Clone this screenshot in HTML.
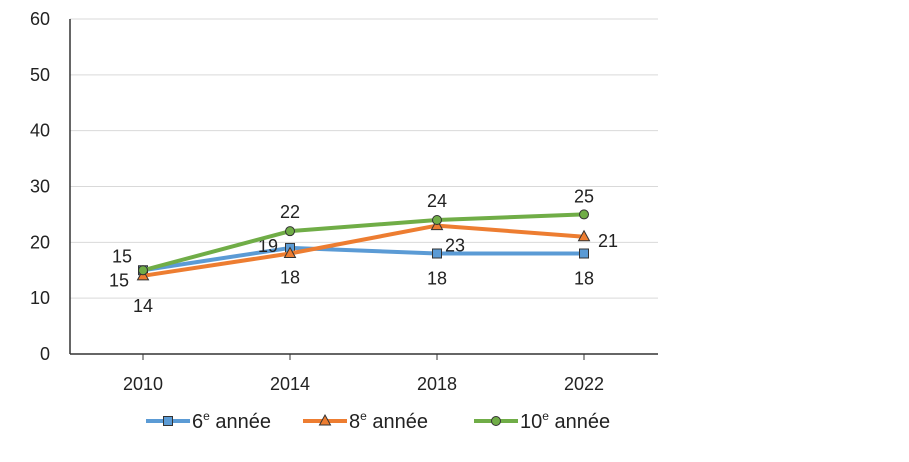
<!DOCTYPE html>
<html><head><meta charset="utf-8"><style>
body{margin:0;background:#fff;}
svg text{font-family:"Liberation Sans",sans-serif;fill:#222;}
</style></head><body>
<svg id="chart" width="909" height="457" xmlns="http://www.w3.org/2000/svg"></svg>
<script>
const categories=["2010","2014","2018","2022"];
const sixth=[15,19,18,18];
const eighth=[14,18,23,21];
const tenth=[15,22,24,25];
const yTicks=[0,10,20,30,40,50,60];
const NS="http://www.w3.org/2000/svg";
const svg=document.getElementById('chart');
const x0=70,x1=658,yBase=354,yTop=19;
const xs=i=>143+i*147;
const ys=v=>yBase-(v/60)*(yBase-yTop);
function mk(t,a,p){const e=document.createElementNS(NS,t);for(const k in a)e.setAttribute(k,a[k]);(p||svg).appendChild(e);return e;}
yTicks.forEach(v=>{
  if(v>0){const g=mk('line',{x1:x0,x2:x1,y1:ys(v),y2:ys(v),stroke:'#d9d9d9','stroke-width':1});
  
  }
  const t=mk('text',{x:50,y:ys(v)+6,'text-anchor':'end','font-size':18});t.textContent=v;
  
  
});
const ya=mk('line',{x1:x0,x2:x0,y1:yTop,y2:yBase,stroke:'#333','stroke-width':1.5});


const xa=mk('line',{x1:x0,x2:x1,y1:yBase,y2:yBase,stroke:'#333','stroke-width':1.5});


categories.forEach((c,i)=>{
  mk('line',{x1:xs(i),x2:xs(i),y1:yBase,y2:yBase+6,stroke:'#333'});
  const t=mk('text',{x:xs(i),y:390,'text-anchor':'middle','font-size':18});t.textContent=c;
  
  
});
const series=[
 {name:'6e',data:sixth,color:'#5b9bd5',fill:'#5b9bd5',m:'square',off:[[-24,10],[-22,-2],[0,25],[0,25]]},
 {name:'8e',data:eighth,color:'#ed7d31',fill:'#ed7d31',m:'tri',off:[[0,30],[0,24],[18,20],[24,4]]},
 {name:'10e',data:tenth,color:'#70ad47',fill:'#70ad47',m:'circle',off:[[-21,-14],[0,-19],[0,-19],[0,-18]]}
];
function marker(s,x,y,p){
  let e;
  if(s.m==='square')e=mk('rect',{x:x-4.5,y:y-4.5,width:9,height:9,fill:s.fill,stroke:'#333','stroke-width':1},p);
  else if(s.m==='tri')e=mk('polygon',{points:`${x},${y-6} ${x+5.5},${y+4} ${x-5.5},${y+4}`,fill:s.fill,stroke:'#333','stroke-width':1},p);
  else e=mk('circle',{cx:x,cy:y,r:4.5,fill:s.fill,stroke:'#333','stroke-width':1},p);
  return e;
}
series.forEach(s=>{
  const g=mk('g',{});
  
  
  const pl=mk('polyline',{points:s.data.map((v,i)=>xs(i)+','+ys(v)).join(' '),fill:'none',stroke:s.color,'stroke-width':4,'stroke-linejoin':'round'},g);
  
  
  s.data.forEach((v,i)=>{
    const mm=marker(s,xs(i),ys(v),g);
    
    
    const t=mk('text',{x:xs(i)+s.off[i][0],y:ys(v)+s.off[i][1]+6,'text-anchor':'middle','font-size':18},g);
    t.textContent=v;
    
    
  });
});
const leg=[{s:series[0],x:146,label:'6',sup:'e'},{s:series[1],x:303,label:'8',sup:'e'},{s:series[2],x:474,label:'10',sup:'e'}];
leg.forEach(l=>{
  const g=mk('g',{});
  
  
  mk('line',{x1:l.x,x2:l.x+44,y1:421,y2:421,stroke:l.s.color,'stroke-width':4},g);
  marker(l.s,l.x+22,421,g);
  const t=mk('text',{x:l.x+46,y:428,'font-size':20},g);
  t.innerHTML=l.label+'<tspan dy="-8" font-size="12">'+l.sup+'</tspan><tspan dy="8">  année</tspan>';
  t.setAttribute('xml:space','preserve');
});
</script>
</body></html>
